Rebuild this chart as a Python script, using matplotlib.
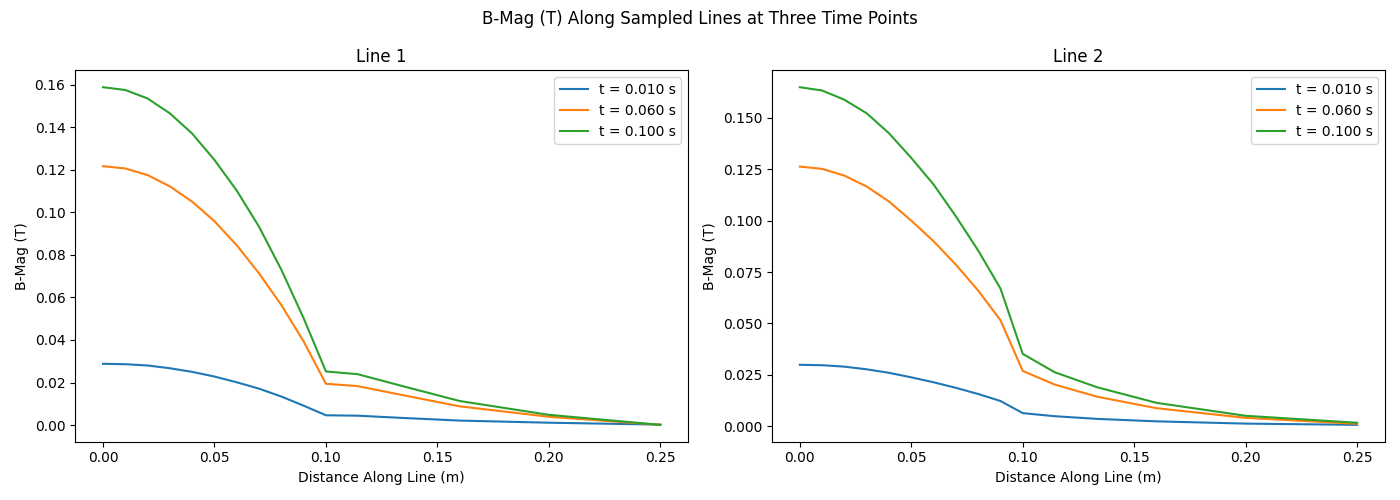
import matplotlib
matplotlib.use("Agg")
import matplotlib.pyplot as plt

# sample positions along each line (m)
distance = [0.00, 0.01, 0.02, 0.03, 0.04, 0.05, 0.06, 0.07, 0.08, 0.09,
            0.10, 0.1143, 0.1333, 0.16, 0.20, 0.25]

time_labels = ["t = 0.010 s", "t = 0.060 s", "t = 0.100 s"]

# Line 1 B-Mag (T)
line1_t010 = [0.0288, 0.0286, 0.0280, 0.0267, 0.0250, 0.0228, 0.0201, 0.0171,
              0.0134, 0.0091, 0.0046, 0.0044, 0.0034, 0.0021, 0.0011, 0.0002]
line1_t060 = [0.1217, 0.1206, 0.1175, 0.1122, 0.1050, 0.0958, 0.0845, 0.0713,
              0.0564, 0.0393, 0.0194, 0.0183, 0.0143, 0.0088, 0.0039, 0.0001]
line1_t100 = [0.1588, 0.1575, 0.1535, 0.1465, 0.1370, 0.1246, 0.1102, 0.0932,
              0.0730, 0.0502, 0.0252, 0.0239, 0.0186, 0.0113, 0.0048, 0.0001]

# Line 2 B-Mag (T)
line2_t010 = [0.0299, 0.0297, 0.0290, 0.0277, 0.0260, 0.0238, 0.0214, 0.0187,
              0.0157, 0.0123, 0.0064, 0.0049, 0.0036, 0.0024, 0.0013, 0.0007]
line2_t060 = [0.1263, 0.1252, 0.1219, 0.1166, 0.1093, 0.1000, 0.0900, 0.0786,
              0.0660, 0.0516, 0.0269, 0.0203, 0.0144, 0.0088, 0.0041, 0.0012]
line2_t100 = [0.1649, 0.1633, 0.1588, 0.1522, 0.1425, 0.1305, 0.1176, 0.1021,
              0.0855, 0.0670, 0.0352, 0.0263, 0.0190, 0.0114, 0.0051, 0.0017]

lines = {
    "Line 1": [line1_t010, line1_t060, line1_t100],
    "Line 2": [line2_t010, line2_t060, line2_t100],
}

fig, axes = plt.subplots(1, 2, figsize=(14, 5))

for ax, (name, series) in zip(axes, lines.items()):
    for values, label in zip(series, time_labels):
        ax.plot(distance, values, label=label)
    ax.set_title(name)
    ax.set_xlabel("Distance Along Line (m)")
    ax.set_ylabel("B-Mag (T)")
    ax.legend(loc="upper right")

fig.suptitle("B-Mag (T) Along Sampled Lines at Three Time Points")
fig.tight_layout()
fig.savefig("out.png", dpi=100)
